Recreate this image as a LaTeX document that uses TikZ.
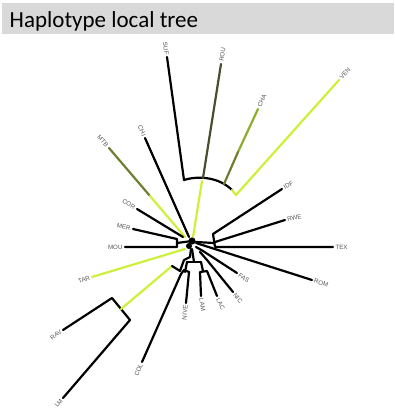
\documentclass[tikz,border=0pt]{standalone}
\usepackage{fontspec}
\setmainfont{Carlito}
\newfontfamily\labfamily{Liberation Sans}
\definecolor{hdrgray}{HTML}{D9D9D9}
\definecolor{lgreen}{HTML}{CDF03A}
\definecolor{olivea}{HTML}{8CAE2C}
\definecolor{oliveb}{HTML}{6E7F34}
\definecolor{olivec}{HTML}{46502E}
\definecolor{labgray}{HTML}{555555}
\tikzset{
  br/.style={line width=2.2pt, draw=black, line cap=round, line join=round},
  lg/.style={br, draw=lgreen},
  olA/.style={br, draw=olivea},
  olB/.style={br, draw=oliveb},
  olC/.style={br, draw=olivec},
  lab/.style={font=\labfamily\fontsize{6.2}{6.2}\selectfont, text=labgray, inner sep=2.3pt},
  labR/.style={lab, anchor=west},
  labL/.style={lab, anchor=east},
}
\begin{document}
\begin{tikzpicture}[x=1pt, y=-1pt]
\useasboundingbox (0,0) rectangle (395,416);
\fill[white] (0,0) rectangle (395,416);
% header
\fill[hdrgray] (2,2.5) rectangle (394,34);
\node[anchor=base west, inner sep=0pt, font=\fontsize{23}{23}\selectfont] (title) at (9.5,27.5) {Haplotype local tree};

% tips
\coordinate (tSUF) at (167,57);
\coordinate (tROU) at (221,64);
\coordinate (tCHA) at (258,109);
\coordinate (tVEN) at (339,80);
\coordinate (tIDF) at (282,189);
\coordinate (tRWE) at (285,220);
\coordinate (tTEX) at (333,247);
\coordinate (tROM) at (312,280);
\coordinate (tFAS) at (237,273);
\coordinate (tNIC) at (233,292);
\coordinate (tLAC) at (217,296);
\coordinate (tLAM) at (201,296);
\coordinate (tNIVE) at (186,303);
\coordinate (tCOL) at (142,362);
\coordinate (tLM) at (63,398);
\coordinate (tRAV) at (63,330);
\coordinate (tTAR) at (92,277);
\coordinate (tMOU) at (125,247);
\coordinate (tMER) at (133,229);
\coordinate (tCOR) at (137,209);
\coordinate (tMTB) at (109,148);
\coordinate (tCHI) at (145,138);

% internal points
\coordinate (C) at (192,241);
\coordinate (aL) at (184,180);
\coordinate (aM) at (203,178);
\coordinate (aS) at (202,181);
\coordinate (aC) at (224,184);
\coordinate (aR) at (232,190);
\coordinate (vV) at (236,195);
\coordinate (chaMid) at (238,152);
\coordinate (mtbMid) at (150,196);
\coordinate (mmA) at (177,239);
\coordinate (mmB) at (177,247);
\coordinate (mmS) at (177,243);
\coordinate (rlA) at (112,298);
\coordinate (rlB) at (130,320);
\coordinate (rlS) at (121,309);
\coordinate (rlK) at (172,266);
\coordinate (colN) at (181,274);
\coordinate (nivN) at (189,272);
\coordinate (cnS) at (185,272);
\coordinate (lamN) at (200,272);
\coordinate (lacN) at (207,271);
\coordinate (llS) at (203,271);
\coordinate (bkA) at (187,262);
\coordinate (bkB) at (201,262);
\coordinate (bkS) at (194,262);
\coordinate (irA) at (213,234);
\coordinate (irB) at (215,242);
\coordinate (irC) at (215,247);
\coordinate (irS) at (214,243);

% upper clade
\draw[br] (tSUF) -- (aL);
\draw[br] (aL) .. controls (200,175) and (220,178) .. (aR);
\draw[olC] (tROU) -- (aM);
\draw[olA] (tCHA) -- (chaMid);
\draw[olB] (chaMid) -- (aC);
\draw[lg] (tVEN) -- (vV) -- (aR);
\draw[lg] (aS) -- (193,237);

% left side
\draw[br] (tCHI) -- (189,237);
\draw[olB] (tMTB) -- (mtbMid);
\draw[lg] (mtbMid) -- (185,237);
\draw[br] (tCOR) -- (183,237);
\draw[br] (tMER) -- (mmA) -- (mmB) -- (tMOU);
\draw[br] (mmS) -- (C);
\draw[lg] (tTAR) -- (185,249);

% RAV / LM clade
\draw[br] (tRAV) -- (rlA) -- (rlB) -- (tLM);
\draw[lg] (rlS) -- (rlK);
\draw[br] (rlK) -- (180,271) -- (184,260) -- (190,257) -- (191,249);

% bottom clades
\draw[br] (tCOL) -- (colN);
\draw[br] (tNIVE) -- (nivN);
\draw[br] (colN) -- (184,270) -- (nivN);
\draw[br] (cnS) -- (bkA);
\draw[br] (tLAM) -- (lamN) -- (lacN) -- (tLAC);
\draw[br] (llS) -- (bkB);
\draw[br] (bkA) -- (bkB);
\draw[br] (bkS) -- (192,249);
\draw[br] (tNIC) -- (207,260) -- (200,252);
\draw[br] (tFAS) -- (203,251) -- (196,247);
\draw[br] (tROM) -- (196,243);

% right clade
\draw[br] (tIDF) -- (irA) -- (irC) -- (tTEX);
\draw[br] (tRWE) -- (irB);
\draw[br] (irS) -- (196,242);

% central blob
\fill[black] (C) circle (3.6);
\fill[black] (189,246) circle (3);

% labels
\node[labL, rotate=-82] (lSUF) at (tSUF) {SUF};
\node[labR, rotate=81] (lROU) at (tROU) {ROU};
\node[labR, rotate=64] (lCHA) at (tCHA) {CHA};
\node[labR, rotate=48] (lVEN) at (tVEN) {VEN};
\node[labR, rotate=30] (lIDF) at (tIDF) {IDF};
\node[labR, rotate=13] (lRWE) at (tRWE) {RWE};
\node[labR] (lTEX) at (tTEX) {TEX};
\node[labR, rotate=-18] (lROM) at (tROM) {ROM};
\node[labR, rotate=-35] (lFAS) at (tFAS) {FAS};
\node[labR, rotate=-51] (lNIC) at (tNIC) {NIC};
\node[labR, rotate=-65] (lLAC) at (tLAC) {LAC};
\node[labR, rotate=-81] (lLAM) at (tLAM) {LAM};
\node[labL, rotate=84] (lNIVE) at (tNIVE) {NIVE};
\node[labL, rotate=67] (lCOL) at (tCOL) {COL};
\node[labL, rotate=51] (lLM) at (tLM) {LM};
\node[labL, rotate=35] (lRAV) at (tRAV) {RAV};
\node[labL, rotate=20] (lTAR) at (tTAR) {TAR};
\node[labL] (lMOU) at (tMOU) {MOU};
\node[labL, rotate=-12] (lMER) at (tMER) {MER};
\node[labL, rotate=-30] (lCOR) at (tCOR) {COR};
\node[labL, rotate=-48] (lMTB) at (tMTB) {MTB};
\node[labL, rotate=-66] (lCHI) at (tCHI) {CHI};
\end{tikzpicture}
\end{document}
